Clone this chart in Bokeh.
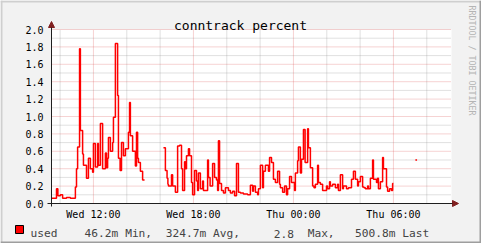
import math
from bokeh.plotting import figure
from bokeh.models import Label, BoxAnnotation, Arrow, NormalHead, Range1d
from bokeh.core.properties import value
from bokeh.embed import file_html
from bokeh.resources import INLINE

NaN = float("nan")

# ---- data -------------------------------------------------------------
START = 569          # Wed 09:29, minutes since Wed 00:00
SPAN = 1440          # one day
# minutes after START where each step begins, and the step's value
minutes = [0, 18, 23, 32, 40, 54, 68, 86, 90, 94, 101, 104, 112, 115, 126, 133, 140, 148, 151, 158,
           166, 169, 176, 184, 194, 198, 202, 205, 212, 220, 223, 230, 238, 241, 247, 252, 259, 266,
           277, 281, 284, 292, 302, 306, 310, 313, 320, 328, 335,
           403, 410, 416, 419, 421, 432, 436, 446, 454, 461, 468, 472, 479, 482, 486, 493, 497, 504,
           508, 515, 522, 526, 529, 536, 544, 547, 562, 565, 571, 580, 587, 594, 598, 601, 605, 612,
           619, 626, 637, 644, 652, 659, 666, 673, 680, 691, 706, 716, 724, 727, 734, 742, 745, 752,
           760, 763, 770, 781, 785, 792, 799, 806, 814, 821, 824, 832, 839, 846, 850, 857, 864, 875,
           878, 886, 889, 896, 900, 907, 913, 922, 925, 932, 940, 945, 950, 958, 961, 968, 976, 990,
           994, 1001, 1004, 1012, 1022, 1030, 1033, 1040, 1048, 1051, 1062, 1069, 1080, 1087, 1094,
           1102, 1105, 1112, 1120, 1125, 1130, 1138, 1141, 1148, 1156, 1159, 1170, 1174, 1177, 1184,
           1192, 1195, 1206, 1210, 1217, 1224, 1228, 1231,
           1310, 1316]
values = [0.06, 0.17, 0.09, 0.10, 0.06, 0.07, 0.06, 0.19, 0.40, 0.65, 1.78, 0.84, 0.57, 0.44, 0.29, 0.52, 0.40, 0.36, 0.69, 0.42,
          0.69, 0.44, 0.92, 0.40, 0.58, 0.41, 0.52, 0.76, 0.60, 0.70, 0.99, 1.84, 1.24, 0.52, 0.38, 0.70, 0.55, 0.63,
          0.82, 1.16, 0.78, 0.60, 0.43, 0.82, 0.52, 0.47, 0.37, 0.27, NaN,
          0.64, 0.38, 0.29, 0.22, 0.20, 0.33, 0.20, 0.13, 0.66, 0.67, 0.40, 0.15, 0.48, 0.40, 0.55, 0.63, 0.55, 0.24,
          0.10, 0.38, 0.26, 0.15, 0.35, 0.17, 0.26, 0.15, 0.50, 0.30, 0.20, 0.46, 0.30, 0.27, 0.15, 0.72, 0.23, 0.15,
          0.12, 0.18, 0.15, 0.12, 0.14, 0.09, 0.46, 0.13, 0.12, 0.11, 0.10, 0.21, 0.14, 0.20, 0.13, 0.10, 0.17, 0.44,
          0.18, 0.37, 0.44, 0.37, 0.53, 0.47, 0.28, 0.24, 0.37, 0.22, 0.18, 0.13, 0.20, 0.10, 0.17, 0.31, 0.24, 0.15,
          0.35, 0.49, 0.65, 0.35, 0.51, 0.85, 0.47, 0.86, 0.64, 0.41, 0.20, 0.18, 0.22, 0.44, 0.24, 0.22, 0.15, 0.20,
          0.17, 0.25, 0.20, 0.22, 0.18, 0.22, 0.15, 0.33, 0.17, 0.20, 0.17, 0.18, 0.28, 0.37, 0.28,
          0.20, 0.25, 0.31, 0.19, 0.18, 0.17, 0.20, 0.17, 0.29, 0.50, 0.28, 0.24, 0.29, 0.17, 0.25,
          0.53, 0.40, 0.19, 0.14, 0.17, 0.15, 0.23, NaN,
          0.50, NaN]
assert len(minutes) == len(values)

x_ticks = [720, 1080, 1440, 1800]
x_tick_labels = ["Wed 12:00", "Wed 18:00", "Thu 00:00", "Thu 06:00"]
x_minor = [600, 840, 960, 1200, 1320, 1560, 1680, 1920]
y_ticks = [0.0, 0.2, 0.4, 0.6, 0.8, 1.0, 1.2, 1.4, 1.6, 1.8, 2.0]
y_tick_labels = ["0.0", "0.2", "0.4", "0.6", "0.8", "1.0", "1.2", "1.4", "1.6", "1.8", "2.0"]
y_minor = [0.1, 0.3, 0.5, 0.7, 0.9, 1.1, 1.3, 1.5, 1.7, 1.9]
Y_MAX = 2.0

title = "conntrack percent"
series_name = "used"
legend_fields = [("46.2m", 8), ("Min,", 14), ("324.7m", 20), ("Avg,", 27),
                 ("2.8", 36), ("Max,", 41), ("500.8m", 48), ("Last", 55)]
watermark = "RRDTOOL / TOBI OETIKER"

# ---- layout -----------------------------------------------------------
W, H = 481, 243
PL, PT, PW, PH = 51, 29, 400, 174          # plot area inside the canvas (px)
MONO = "DejaVu Sans Mono"
kx = SPAN / PW                               # minutes per px
ky = Y_MAX / PH                              # value per px

p = figure(width=W, height=H, output_backend="svg", toolbar_location=None,
           x_axis_type=None, y_axis_type=None,
           x_range=Range1d(START - PL * kx, START + SPAN + (W - PL - PW) * kx),
           y_range=Range1d(-(H - PT - PH) * ky, Y_MAX + PT * ky),
           min_border=0)
p.background_fill_color = "#F2F2F2"
p.border_fill_color = "#F2F2F2"
p.outline_line_color = None

def cx(px):   # canvas px -> label screen units (frame == canvas)
    return px

def cy(py):
    return H - py

# plot canvas
p.quad(left=[START], right=[START + SPAN], bottom=[0], top=[Y_MAX],
       fill_color="#FFFFFF", line_color=None)

# grid lines
x0 = START
x1 = START + SPAN
p.segment(x0=x_minor, y0=[0] * len(x_minor), x1=x_minor, y1=[Y_MAX] * len(x_minor),
          line_color="#8F8F8F", line_alpha=0.55, line_width=1, line_dash="1 1")
p.segment(x0=[x0] * len(y_minor), y0=y_minor, x1=[x1] * len(y_minor), y1=y_minor,
          line_color="#8F8F8F", line_alpha=0.55, line_width=1, line_dash="1 1")
p.segment(x0=x_ticks, y0=[0] * len(x_ticks), x1=x_ticks, y1=[Y_MAX] * len(x_ticks),
          line_color="#DE4F4F", line_alpha=0.5, line_width=1, line_dash="1 1")
p.segment(x0=[x0] * len(y_ticks), y0=y_ticks, x1=[x1] * len(y_ticks), y1=y_ticks,
          line_color="#DE4F4F", line_alpha=0.5, line_width=1, line_dash="1 1")

# tick labels
p.text(x=x_ticks, y=[0] * len(x_ticks), text=x_tick_labels, y_offset=5,
       text_font=value(MONO), text_font_size="10px", text_align="center",
       text_baseline="top", text_color="#000000")
p.text(x=[x0] * len(y_ticks), y=y_ticks, text=y_tick_labels, x_offset=-8,
       text_font=value(MONO), text_font_size="10px", text_align="right",
       text_baseline="middle", text_color="#000000")

# step line
xs, ys = [], []
for i in range(len(minutes) - 1):
    xs += [START + minutes[i], START + minutes[i + 1]]
    ys += [values[i], values[i]]
p.line(xs, ys, line_color="#FF0000", line_width=1.5)

# axis lines with arrows
head = dict(size=6, fill_color="#801F1F", line_color="#801F1F")
p.add_layout(Arrow(x_start=cx(47), y_start=cy(203), x_end=cx(458), y_end=cy(203),
                   start_units="screen", end_units="screen",
                   line_color="#1F1F1F", line_width=1, end=NormalHead(**head)))
p.add_layout(Arrow(x_start=cx(51), y_start=cy(206), x_end=cx(51), y_end=cy(21),
                   start_units="screen", end_units="screen",
                   line_color="#1F1F1F", line_width=1, end=NormalHead(**head)))

# title
p.add_layout(Label(x=cx(240), y=cy(24.5), x_units="screen", y_units="screen", text=title,
                   text_font=MONO, text_font_size="13px", text_align="center",
                   text_baseline="alphabetic", text_color="#000000"))

# watermark
p.add_layout(Label(x=cx(471.5), y=cy(5), x_units="screen", y_units="screen", text=watermark,
                   angle=-math.pi / 2, text_font=MONO, text_font_size="8.3px",
                   text_align="left", text_baseline="middle", text_color="#B4B4B4"))

# legend
CW = 6.76
LX = 30
p.add_layout(BoxAnnotation(left=cx(15), right=cx(23), top=cy(225), bottom=cy(233),
                           left_units="screen", right_units="screen",
                           top_units="screen", bottom_units="screen",
                           fill_color="#FF0000", fill_alpha=1.0,
                           line_color="#000000", line_width=1, line_alpha=1.0))
p.add_layout(Label(x=cx(LX), y=cy(233), x_units="screen", y_units="screen", text=series_name,
                   text_font=MONO, text_font_size="11.2px", text_baseline="alphabetic"))
for txt, col in legend_fields:
    p.add_layout(Label(x=cx(LX + col * CW), y=cy(233), x_units="screen", y_units="screen",
                       text=txt, text_font=MONO, text_font_size="11.2px",
                       text_baseline="alphabetic"))

# frame shading
for (l, r, t, b, c) in [(0, 481, 0, 2, "#CFCFCF"), (0, 2, 0, 243, "#CFCFCF"),
                        (479, 481, 0, 243, "#9E9E9E"), (0, 481, 241, 243, "#9E9E9E")]:
    p.add_layout(BoxAnnotation(left=cx(l), right=cx(r), top=cy(t), bottom=cy(b),
                               left_units="screen", right_units="screen",
                               top_units="screen", bottom_units="screen",
                               fill_color=c, fill_alpha=1.0, line_color=None))

open("out.html", "w").write(file_html(p, INLINE))
